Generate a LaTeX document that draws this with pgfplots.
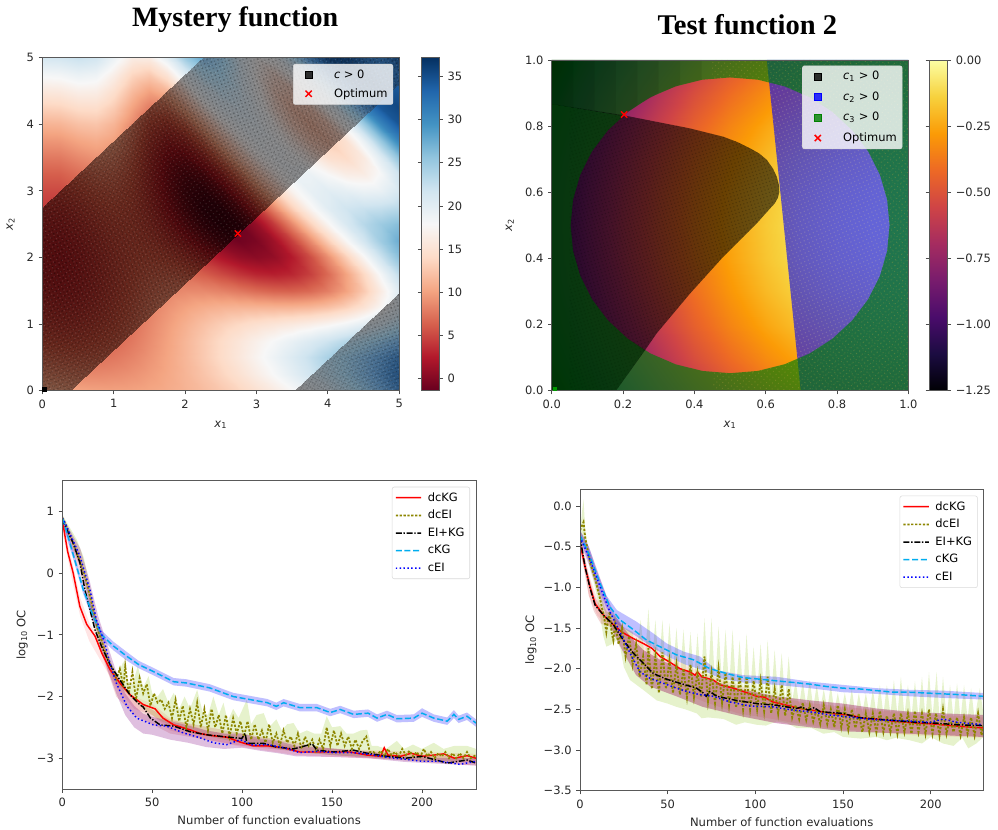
\documentclass[border=0pt]{standalone}
\usepackage{pgfplots}
\usepackage{pgfplotstable}
\usepackage{fontspec}
\pgfplotsset{compat=1.18}
\usetikzlibrary{patterns,patterns.meta}
\setmainfont{DejaVu Sans}
\newfontfamily\titlefont{Liberation Serif}[BoldFont={Liberation Serif Bold}]
\pgfplotsset{
 colormap={RdBu}{rgb255=(103,0,31) rgb255=(178,24,43) rgb255=(214,96,77) rgb255=(244,165,130) rgb255=(253,219,199) rgb255=(247,247,247) rgb255=(209,229,240) rgb255=(146,197,222) rgb255=(67,147,195) rgb255=(33,102,172) rgb255=(5,48,97)},
 colormap={RdBuBand}{rgb255=(28,0,6) rgb255=(78,9,13) rgb255=(103,40,29) rgb255=(125,80,62) rgb255=(136,110,100) rgb255=(136,134,134) rgb255=(126,134,140) rgb255=(106,134,150) rgb255=(74,112,146) rgb255=(37,80,124) rgb255=(11,44,83)},
 colormap={inferno}{rgb255=(0,0,4) rgb255=(27,12,65) rgb255=(74,12,107) rgb255=(120,28,109) rgb255=(165,44,96) rgb255=(207,68,70) rgb255=(237,105,37) rgb255=(251,155,6) rgb255=(247,209,61) rgb255=(252,255,164)},
 base/.style={scale only axis, axis line style={black!65,line width=.7pt}, tick style={black!70,line width=.6pt}, tick align=outside, tick pos=left, major tick length=2.8pt, tick label style={font=\fontsize{8.6}{10}\selectfont,text=black!85}, label style={font=\fontsize{8.7}{10}\selectfont,text=black!85}, axis on top, xticklabel style={yshift=-.3pt}},
 leg/.style={legend style={draw=black!15,fill=white,fill opacity=.8,draw opacity=1,text opacity=1,rounded corners=1.5pt,font=\fontsize{8.6}{10}\selectfont,cells={anchor=west},row sep=#1,inner sep=2pt}},
 lg/.style={legend image code/.code={\path[draw=none,fill=none] (0pt,0pt) -- (22pt,0pt);\draw[#1] (0pt,0pt) -- (9.5pt,0.05pt) -- (19pt,0pt);}},
 lgm/.style={legend image code/.code={\path[draw=none,fill=none] (0pt,0pt) -- (26.5pt,0pt);\draw[##1] plot coordinates {(9.5pt,0pt)};}},
 sp/.style n args={5}{forget plot,draw=none,opacity=#1,pattern={Dots[radius=#2,distance=#3,angle=#4]},pattern color=#5},
 dk/.style={forget plot,draw=none,fill=black,fill opacity=.075},
}
\definecolor{spg}{RGB}{205,170,70}
\definecolor{spb}{RGB}{225,205,160}
\pgfplotstableread[row sep=\\]{
x y z\\
0 0 11\\0 0.25 9.13\\0 0.5 7.5\\0 0.75 6.13\\0 1 5.01\\0 1.25 4.14\\0 1.5 3.52\\0 1.75 3.16\\0 2 3.04\\0 2.25 3.18\\0 2.5 3.56\\0 2.75 4.2\\0 3 5.09\\0 3.25 6.23\\0 3.5 7.62\\0 3.75 9.27\\0 4 11.16\\0 4.25 13.31\\0 4.5 15.7\\0 4.75 18.35\\0 5 21.25\\
0.25 0 10.56\\0.25 0.25 8.73\\0.25 0.5 7.14\\0.25 0.75 5.8\\0.25 1 4.72\\0.25 1.25 3.89\\0.25 1.5 3.31\\0.25 1.75 2.98\\0.25 2 2.9\\0.25 2.25 3.07\\0.25 2.5 3.49\\0.25 2.75 4.16\\0.25 3 5.09\\0.25 3.25 6.26\\0.25 3.5 7.68\\0.25 3.75 9.36\\0.25 4 11.28\\0.25 4.25 13.46\\0.25 4.5 15.88\\0.25 4.75 18.55\\0.25 5 21.47\\
0.5 0 10.25\\0.5 0.25 8.53\\0.5 0.5 7.05\\0.5 0.75 5.83\\0.5 1 4.85\\0.5 1.25 4.12\\0.5 1.5 3.64\\0.5 1.75 3.4\\0.5 2 3.4\\0.5 2.25 3.65\\0.5 2.5 4.13\\0.5 2.75 4.86\\0.5 3 5.83\\0.5 3.25 7.04\\0.5 3.5 8.49\\0.5 3.75 10.18\\0.5 4 12.1\\0.5 4.25 14.27\\0.5 4.5 16.66\\0.5 4.75 19.3\\0.5 5 22.18\\
0.75 0 10.07\\0.75 0.25 8.53\\0.75 0.5 7.23\\0.75 0.75 6.17\\0.75 1 5.35\\0.75 1.25 4.76\\0.75 1.5 4.39\\0.75 1.75 4.24\\0.75 2 4.3\\0.75 2.25 4.59\\0.75 2.5 5.08\\0.75 2.75 5.79\\0.75 3 6.68\\0.75 3.25 7.77\\0.75 3.5 9.12\\0.75 3.75 10.65\\0.75 4 12.39\\0.75 4.25 14.36\\0.75 4.5 16.52\\0.75 4.75 18.92\\0.75 5 21.53\\
1 0 10.01\\1 0.25 8.72\\1 0.5 7.65\\1 0.75 6.81\\1 1 6.16\\1 1.25 5.71\\1 1.5 5.41\\1 1.75 5.29\\1 2 5.32\\1 2.25 5.5\\1 2.5 5.82\\1 2.75 6.31\\1 3 6.94\\1 3.25 7.74\\1 3.5 8.7\\1 3.75 9.87\\1 4 11.21\\1 4.25 12.8\\1 4.5 14.59\\1 4.75 16.66\\1 5 18.98\\
1.25 0 10.08\\1.25 0.25 9.09\\1.25 0.5 8.31\\1.25 0.75 7.69\\1.25 1 7.2\\1.25 1.25 6.83\\1.25 1.5 6.52\\1.25 1.75 6.28\\1.25 2 6.09\\1.25 2.25 5.97\\1.25 2.5 5.91\\1.25 2.75 5.95\\1.25 3 6.1\\1.25 3.25 6.42\\1.25 3.5 6.92\\1.25 3.75 7.66\\1.25 4 8.68\\1.25 4.25 10.02\\1.25 4.5 11.72\\1.25 4.75 13.8\\1.25 5 16.31\\
1.5 0 10.3\\1.5 0.25 9.66\\1.5 0.5 9.17\\1.5 0.75 8.78\\1.5 1 8.41\\1.5 1.25 8\\1.5 1.5 7.53\\1.5 1.75 6.98\\1.5 2 6.37\\1.5 2.25 5.74\\1.5 2.5 5.11\\1.5 2.75 4.58\\1.5 3 4.22\\1.5 3.25 4.11\\1.5 3.5 4.34\\1.5 3.75 5\\1.5 4 6.12\\1.5 4.25 7.79\\1.5 4.5 10.03\\1.5 4.75 12.85\\1.5 5 16.23\\
1.75 0 10.65\\1.75 0.25 10.39\\1.75 0.5 10.22\\1.75 0.75 10\\1.75 1 9.66\\1.75 1.25 9.09\\1.75 1.5 8.26\\1.75 1.75 7.22\\1.75 2 6\\1.75 2.25 4.72\\1.75 2.5 3.48\\1.75 2.75 2.48\\1.75 3 1.83\\1.75 3.25 1.69\\1.75 3.5 2.17\\1.75 3.75 3.36\\1.75 4 5.29\\1.75 4.25 7.97\\1.75 4.5 11.36\\1.75 4.75 15.33\\1.75 5 19.75\\
2 0 11.16\\2 0.25 11.29\\2 0.5 11.41\\2 0.75 11.35\\2 1 10.89\\2 1.25 10\\2 1.5 8.64\\2 1.75 6.94\\2 2 5.01\\2 2.25 3.11\\2 2.5 1.45\\2 2.75 0.32\\2 3 -0.12\\2 3.25 0.32\\2 3.5 1.71\\2 3.75 4.07\\2 4 7.28\\2 4.25 11.21\\2 4.5 15.6\\2 4.75 20.29\\2 5 24.88\\
2.25 0 11.82\\2.25 0.25 12.34\\2.25 0.5 12.75\\2.25 0.75 12.72\\2.25 1 12.05\\2.25 1.25 10.66\\2.25 1.5 8.63\\2.25 1.75 6.17\\2.25 2 3.6\\2.25 2.25 1.3\\2.25 2.5 -0.38\\2.25 2.75 -1.14\\2.25 3 -0.72\\2.25 3.25 0.92\\2.25 3.5 3.67\\2.25 3.75 7.39\\2.25 4 11.68\\2.25 4.25 16.22\\2.25 4.5 20.61\\2.25 4.75 24.57\\2.25 5 27.87\\
2.5 0 12.64\\2.5 0.25 13.55\\2.5 0.5 14.18\\2.5 0.75 14.1\\2.5 1 13.07\\2.5 1.25 11.04\\2.5 1.5 8.26\\2.5 1.75 5.1\\2.5 2 2.1\\2.5 2.25 -0.22\\2.5 2.5 -1.38\\2.5 2.75 -1.12\\2.5 3 0.65\\2.5 3.25 3.74\\2.5 3.5 7.78\\2.5 3.75 12.27\\2.5 4 16.66\\2.5 4.25 20.5\\2.5 4.5 23.42\\2.5 4.75 25.36\\2.5 5 26.42\\
2.75 0 13.63\\2.75 0.25 14.9\\2.75 0.5 15.7\\2.75 0.75 15.46\\2.75 1 13.93\\2.75 1.25 11.19\\2.75 1.5 7.66\\2.75 1.75 3.99\\2.75 2 0.9\\2.75 2.25 -0.92\\2.75 2.5 -1.01\\2.75 2.75 0.68\\2.75 3 3.93\\2.75 3.25 8.2\\2.75 3.5 12.74\\2.75 3.75 16.87\\2.75 4 19.97\\2.75 4.25 21.8\\2.75 4.5 22.39\\2.75 4.75 22.18\\2.75 5 21.76\\
3 0 14.81\\3 0.25 16.4\\3 0.5 17.27\\3 0.75 16.79\\3 1 14.67\\3 1.25 11.18\\3 1.5 7\\3 1.75 3.1\\3 2 0.41\\3 2.25 -0.4\\3 2.5 0.92\\3 2.75 4.12\\3 3 8.48\\3 3.25 13.06\\3 3.5 16.91\\3 3.75 19.38\\3 4 20.22\\3 4.25 19.7\\3 4.5 18.52\\3 4.75 17.66\\3 5 18.02\\
3.25 0 16.18\\3.25 0.25 18\\3.25 0.5 18.91\\3.25 0.75 18.07\\3.25 1 15.3\\3.25 1.25 11.12\\3.25 1.5 6.51\\3.25 1.75 2.77\\3.25 2 0.89\\3.25 2.25 1.46\\3.25 2.5 4.29\\3.25 2.75 8.61\\3.25 3 13.23\\3.25 3.25 16.99\\3.25 3.5 19.01\\3.25 3.75 19.1\\3.25 4 17.72\\3.25 4.25 15.9\\3.25 4.5 14.86\\3.25 4.75 15.67\\3.25 5 18.88\\
3.5 0 17.75\\3.5 0.25 19.78\\3.5 0.5 20.61\\3.5 0.75 19.34\\3.5 1 15.91\\3.5 1.25 11.13\\3.5 1.5 6.41\\3.5 1.75 3.2\\3.5 2 2.53\\3.5 2.25 4.57\\3.5 2.5 8.61\\3.5 2.75 13.3\\3.5 3 17.14\\3.5 3.25 19.04\\3.5 3.5 18.69\\3.5 3.75 16.72\\3.5 4 14.41\\3.5 4.25 13.27\\3.5 4.5 14.47\\3.5 4.75 18.42\\3.5 5 24.64\\
3.75 0 19.54\\3.75 0.25 21.67\\3.75 0.5 22.36\\3.75 0.75 20.62\\3.75 1 16.57\\3.75 1.25 11.4\\3.75 1.5 6.87\\3.75 1.75 4.58\\3.75 2 5.28\\3.75 2.25 8.63\\3.75 2.5 13.24\\3.75 2.75 17.35\\3.75 3 19.46\\3.75 3.25 19.07\\3.75 3.5 16.75\\3.75 3.75 14.03\\3.75 4 12.69\\3.75 4.25 14.06\\3.75 4.5 18.4\\3.75 4.75 24.91\\3.75 5 31.92\\
4 0 21.56\\4 0.25 23.71\\4 0.5 24.17\\4 0.75 21.95\\4 1 17.38\\4 1.25 12.08\\4 1.5 8.05\\4 1.75 6.91\\4 2 8.94\\4 2.25 13.13\\4 2.5 17.5\\4 2.75 20.18\\4 3 20.13\\4 3.25 17.79\\4 3.5 14.73\\4 3.75 13.03\\4 4 14.21\\4 4.25 18.58\\4 4.5 25.03\\4 4.75 31.66\\4 5 36.52\\
4.25 0 23.82\\4.25 0.25 25.89\\4.25 0.5 26.07\\4.25 0.75 23.39\\4.25 1 18.46\\4.25 1.25 13.27\\4.25 1.5 10.03\\4.25 1.75 10.1\\4.25 2 13.2\\4.25 2.25 17.57\\4.25 2.5 20.92\\4.25 2.75 21.68\\4.25 3 19.68\\4.25 3.25 16.45\\4.25 3.5 14.21\\4.25 3.75 14.87\\4.25 4 18.86\\4.25 4.25 25.06\\4.25 4.5 31.26\\4.25 4.75 35.42\\4.25 5 36.67\\
4.5 0 26.35\\4.5 0.25 28.24\\4.5 0.5 28.1\\4.5 0.75 25\\4.5 1 19.91\\4.5 1.25 15.1\\4.5 1.5 12.82\\4.5 1.75 13.99\\4.5 2 17.67\\4.5 2.25 21.54\\4.5 2.5 23.35\\4.5 2.75 22.2\\4.5 3 19.09\\4.5 3.25 16.32\\4.5 3.5 16.12\\4.5 3.75 19.37\\4.5 4 25.07\\4.5 4.25 30.93\\4.5 4.5 34.67\\4.5 4.75 35.48\\4.5 5 34.35\\
4.75 0 29.15\\4.75 0.25 30.76\\4.75 0.5 30.27\\4.75 0.75 26.88\\4.75 1 21.82\\4.75 1.25 17.6\\4.75 1.5 16.33\\4.75 1.75 18.36\\4.75 2 22.07\\4.75 2.25 24.84\\4.75 2.5 24.95\\4.75 2.75 22.47\\4.75 3 19.35\\4.75 3.25 18.15\\4.75 3.5 20.3\\4.75 3.75 25.26\\4.75 4 30.76\\4.75 4.25 34.4\\4.75 4.5 35.12\\4.75 4.75 33.94\\4.75 5 33.28\\
5 0 32.25\\5 0.25 33.48\\5 0.5 32.62\\5 0.75 29.08\\5 1 24.29\\5 1.25 20.82\\5 1.5 20.42\\5 1.75 22.88\\5 2 26.04\\5 2.25 27.5\\5 2.5 26.18\\5 2.75 23.25\\5 3 21.15\\5 3.25 21.97\\5 3.5 25.82\\5 3.75 30.87\\5 4 34.56\\5 4.25 35.54\\5 4.5 34.52\\5 4.75 33.9\\5 5 35.91\\
}\mysterydata
\pgfplotstableread[row sep=\\]{
x y z\\
0 0 -1.25\\0 0.1 -1.16\\0 0.2 -1.09\\0 0.3 -1.04\\0 0.4 -1.01\\0 0.5 -1\\0 0.6 -1.01\\0 0.7 -1.04\\0 0.8 -1.09\\0 0.9 -1.16\\0 1 -1.25\\
0.1 0 -1.06\\0.1 0.1 -0.97\\0.1 0.2 -0.9\\0.1 0.3 -0.85\\0.1 0.4 -0.82\\0.1 0.5 -0.81\\0.1 0.6 -0.82\\0.1 0.7 -0.85\\0.1 0.8 -0.9\\0.1 0.9 -0.97\\0.1 1 -1.06\\
0.2 0 -0.89\\0.2 0.1 -0.8\\0.2 0.2 -0.73\\0.2 0.3 -0.68\\0.2 0.4 -0.65\\0.2 0.5 -0.64\\0.2 0.6 -0.65\\0.2 0.7 -0.68\\0.2 0.8 -0.73\\0.2 0.9 -0.8\\0.2 1 -0.89\\
0.3 0 -0.74\\0.3 0.1 -0.65\\0.3 0.2 -0.58\\0.3 0.3 -0.53\\0.3 0.4 -0.5\\0.3 0.5 -0.49\\0.3 0.6 -0.5\\0.3 0.7 -0.53\\0.3 0.8 -0.58\\0.3 0.9 -0.65\\0.3 1 -0.74\\
0.4 0 -0.61\\0.4 0.1 -0.52\\0.4 0.2 -0.45\\0.4 0.3 -0.4\\0.4 0.4 -0.37\\0.4 0.5 -0.36\\0.4 0.6 -0.37\\0.4 0.7 -0.4\\0.4 0.8 -0.45\\0.4 0.9 -0.52\\0.4 1 -0.61\\
0.5 0 -0.5\\0.5 0.1 -0.41\\0.5 0.2 -0.34\\0.5 0.3 -0.29\\0.5 0.4 -0.26\\0.5 0.5 -0.25\\0.5 0.6 -0.26\\0.5 0.7 -0.29\\0.5 0.8 -0.34\\0.5 0.9 -0.41\\0.5 1 -0.5\\
0.6 0 -0.41\\0.6 0.1 -0.32\\0.6 0.2 -0.25\\0.6 0.3 -0.2\\0.6 0.4 -0.17\\0.6 0.5 -0.16\\0.6 0.6 -0.17\\0.6 0.7 -0.2\\0.6 0.8 -0.25\\0.6 0.9 -0.32\\0.6 1 -0.41\\
0.7 0 -0.34\\0.7 0.1 -0.25\\0.7 0.2 -0.18\\0.7 0.3 -0.13\\0.7 0.4 -0.1\\0.7 0.5 -0.09\\0.7 0.6 -0.1\\0.7 0.7 -0.13\\0.7 0.8 -0.18\\0.7 0.9 -0.25\\0.7 1 -0.34\\
0.8 0 -0.29\\0.8 0.1 -0.2\\0.8 0.2 -0.13\\0.8 0.3 -0.08\\0.8 0.4 -0.05\\0.8 0.5 -0.04\\0.8 0.6 -0.05\\0.8 0.7 -0.08\\0.8 0.8 -0.13\\0.8 0.9 -0.2\\0.8 1 -0.29\\
0.9 0 -0.26\\0.9 0.1 -0.17\\0.9 0.2 -0.1\\0.9 0.3 -0.05\\0.9 0.4 -0.02\\0.9 0.5 -0.01\\0.9 0.6 -0.02\\0.9 0.7 -0.05\\0.9 0.8 -0.1\\0.9 0.9 -0.17\\0.9 1 -0.26\\
1 0 -0.25\\1 0.1 -0.16\\1 0.2 -0.09\\1 0.3 -0.04\\1 0.4 -0.01\\1 0.5 0\\1 0.6 -0.01\\1 0.7 -0.04\\1 0.8 -0.09\\1 0.9 -0.16\\1 1 -0.25\\
}\testdata
\begin{document}
\begin{tikzpicture}[x=1pt,y=1pt]
\useasboundingbox (0,0) rectangle (748.5,622.5);
\node[font=\titlefont\bfseries\fontsize{21}{24}\selectfont] at (176.3,607.8) {Mystery function};
\node[font=\titlefont\bfseries\fontsize{21.4}{24}\selectfont] at (560.5,603.8) {Test function 2};
% ---------- Mystery
\begin{axis}[base,leg=2.2pt,at={(31.7pt,329.5pt)},anchor=south west,width=267.75pt,height=249.75pt,
 xmin=0,xmax=5,ymin=0,ymax=5,xtick={0,1,2,3,4,5},xticklabels={0,1,2,3,4,5},ytick={0,1,2,3,4,5},yticklabels={0,1,2,3,4,5},
 xlabel={\textit{x}\textsubscript{1}},ylabel={\textit{x}\textsubscript{2}},xlabel shift=2.5pt,ylabel shift=2pt,
 colormap name=RdBu,point meta min=-1.43,point meta max=37.2,
 colorbar,colorbar style={at={(1.0627,1)},anchor=north west,width=13.2pt,ytick={0,5,10,15,20,25,30,35},yticklabels={0,5,10,15,20,25,30,35},tick align=outside,major tick length=2.8pt,axis line style={black!65,line width=.7pt},tick style={black!70,line width=.6pt},yticklabel style={font=\fontsize{8.6}{10}\selectfont,text=black!85}},
 legend style={at={(0.983,0.981)},anchor=north east}]
\addplot[forget plot,surf,shader=interp,mesh/rows=21,mesh/cols=21,mesh/ordering=y varies,point meta=explicit] table[x=x,y=y,meta=z] {\mysterydata};
\begin{scope}
\clip (axis cs:0,0) -- (axis cs:0.393,0) -- (axis cs:5,4.607) -- (axis cs:5,5) -- (axis cs:2.251,5) -- (axis cs:0,2.749) -- cycle
 (axis cs:3.534,0) -- (axis cs:5,0) -- (axis cs:5,1.466) -- cycle;
\addplot[forget plot,surf,shader=interp,colormap name=RdBuBand,mesh/rows=21,mesh/cols=21,mesh/ordering=y varies,point meta=explicit] table[x=x,y=y,meta=z] {\mysterydata};
\end{scope}
\addplot[sp={.2}{.6pt}{2.6pt}{17}{black}] coordinates {(0,0)(0.393,0)(5,4.607)(5,5)(2.251,5)(0,2.749)} --cycle;
\addplot[sp={.14}{.8pt}{3.7pt}{61}{black}] coordinates {(0,0)(0.393,0)(5,4.607)(5,5)(2.251,5)(0,2.749)} --cycle;
\addplot[sp={.12}{.6pt}{3.1pt}{37}{white}] coordinates {(0,0)(0.393,0)(5,4.607)(5,5)(2.251,5)(0,2.749)} --cycle;
\addplot[sp={.2}{.6pt}{2.6pt}{17}{black}] coordinates {(3.534,0)(5,0)(5,1.466)} --cycle;
\addplot[sp={.14}{.8pt}{3.7pt}{61}{black}] coordinates {(3.534,0)(5,0)(5,1.466)} --cycle;
\addplot[sp={.12}{.6pt}{3.1pt}{37}{white}] coordinates {(3.534,0)(5,0)(5,1.466)} --cycle;
\addplot[forget plot,only marks,mark=square*,mark size=1.5pt,black] coordinates {(0.03,0.02)};
\addlegendimage{only marks,mark=square*,mark size=2.6pt,black,lgm}
\addlegendentry{\textit{c} > 0}
\addplot[only marks,mark=x,mark size=3.3pt,red,line width=1.1pt,lgm] coordinates {(2.74,2.36)};
\addlegendentry{Optimum}
\end{axis}
% ---------- Test function 2
\begin{axis}[base,leg=3.5pt,at={(413.8pt,329.5pt)},anchor=south west,width=267.5pt,height=248pt,
 xmin=0,xmax=1,ymin=0,ymax=1,xtick={0,0.2,0.4,0.6,0.8,1},xticklabels={0.0,0.2,0.4,0.6,0.8,1.0},ytick={0,0.2,0.4,0.6,0.8,1},yticklabels={0.0,0.2,0.4,0.6,0.8,1.0},
 xlabel={\textit{x}\textsubscript{1}},ylabel={\textit{x}\textsubscript{2}},xlabel shift=2.5pt,ylabel shift=1.5pt,
 colormap name=inferno,point meta min=-1.25,point meta max=0,
 colorbar,colorbar style={at={(1.0589,1)},anchor=north west,width=13.5pt,ytick={-1.25,-1,-0.75,-0.5,-0.25,0},yticklabels={−1.25,−1.00,−0.75,−0.50,−0.25,0.00},tick align=outside,major tick length=2.8pt,axis line style={black!65,line width=.7pt},tick style={black!70,line width=.6pt},yticklabel style={font=\fontsize{8.6}{10}\selectfont,text=black!85}},
 legend style={at={(0.983,0.983)},anchor=north east}]
\addplot[forget plot,surf,shader=interp,mesh/rows=11,mesh/cols=11,mesh/ordering=y varies,point meta=explicit] table[x=x,y=y,meta=z] {\testdata};
\addplot[forget plot,draw=none,fill=blue,fill opacity=.6] coordinates {(0.603,1)(1,1)(1,0)(0.698,0)} --cycle;
\addplot[sp={.22}{.6pt}{2.9pt}{23}{spb}] coordinates {(0.603,1)(1,1)(1,0)(0.698,0)} --cycle;
\addplot[forget plot,draw=none,fill={rgb,255:red,0;green,125;blue,10},fill opacity=.67] coordinates {(0,0.5)(0,0)(1,0)(1,1)(0,1)(0,0.5)(0.0528,0.5)(0.0596,0.5777)(0.0798,0.653)(0.1127,0.7236)(0.1574,0.7875)(0.2125,0.8426)(0.2764,0.8873)(0.347,0.9202)(0.4223,0.9404)(0.5,0.9472)(0.5777,0.9404)(0.653,0.9202)(0.7236,0.8873)(0.7875,0.8426)(0.8426,0.7875)(0.8873,0.7236)(0.9202,0.653)(0.9404,0.5777)(0.9472,0.5)(0.9404,0.4223)(0.9202,0.347)(0.8873,0.2764)(0.8426,0.2125)(0.7875,0.1574)(0.7236,0.1127)(0.653,0.0798)(0.5777,0.0596)(0.5,0.0528)(0.4223,0.0596)(0.347,0.0798)(0.2764,0.1127)(0.2125,0.1574)(0.1574,0.2125)(0.1127,0.2764)(0.0798,0.347)(0.0596,0.4223)(0.0528,0.5)} --cycle;
\addplot[sp={.25}{.55pt}{3.1pt}{41}{spg}] coordinates {(0.45,1)(1,1)(1,0)(0.45,0)(0.45,0.0553)(0.5,0.0528)(0.5777,0.0596)(0.653,0.0798)(0.7236,0.1127)(0.7875,0.1574)(0.8426,0.2125)(0.8873,0.2764)(0.9202,0.347)(0.9404,0.4223)(0.9472,0.5)(0.9404,0.5777)(0.9202,0.653)(0.8873,0.7236)(0.8426,0.7875)(0.7875,0.8426)(0.7236,0.8873)(0.653,0.9202)(0.5777,0.9404)(0.5,0.9472)(0.45,0.9444)} --cycle;
\addplot[forget plot,draw=none,fill=black,fill opacity=.58] coordinates {(0,0)(0.18,0)(0.262,0.123)(0.294,0.173)(0.388,0.294)(0.481,0.405)(0.575,0.506)(0.608,0.546)(0.625,0.566)(0.634,0.583)(0.638,0.6)(0.637,0.622)(0.631,0.647)(0.62,0.672)(0.603,0.698)(0.582,0.717)(0.556,0.733)(0.52,0.752)(0.481,0.768)(0.388,0.793)(0.294,0.813)(0.2,0.833)(0,0.867)} --cycle;
\addplot[sp={.2}{.6pt}{2.6pt}{17}{black}] coordinates {(0.05,0)(0.18,0)(0.262,0.123)(0.294,0.173)(0.388,0.294)(0.481,0.405)(0.575,0.506)(0.608,0.546)(0.625,0.566)(0.634,0.583)(0.638,0.6)(0.637,0.622)(0.631,0.647)(0.62,0.672)(0.603,0.698)(0.582,0.717)(0.556,0.733)(0.52,0.752)(0.481,0.768)(0.388,0.793)(0.294,0.813)(0.2,0.833)(0.05,0.86)} --cycle;
\addplot[forget plot,draw=none,fill={rgb,255:red,0;green,110;blue,10},fill opacity=.25] coordinates {(0,0)(0.18,0)(0.26,0.122)(0.2125,0.1574)(0.1574,0.2125)(0.1127,0.2764)(0.0798,0.347)(0.0596,0.4223)(0.0528,0.5)(0.0596,0.5777)(0.0798,0.653)(0.1127,0.7236)(0.1574,0.7875)(0.2,0.83)(0,0.867)} --cycle;
\addplot[dk] coordinates {(0,0.867)(0.2,0.833)(0.25,0.87)(0.3,0.9)(0.36,0.925)(0.42,0.94)(0.42,1)(0,1)} --cycle;
\addplot[dk] coordinates {(0,0.867)(0.2,0.833)(0.25,0.87)(0.3,0.9)(0.36,0.925)(0.36,1)(0,1)} --cycle;
\addplot[dk] coordinates {(0,0.867)(0.2,0.833)(0.25,0.87)(0.3,0.9)(0.3,1)(0,1)} --cycle;
\addplot[dk] coordinates {(0,0.867)(0.2,0.833)(0.24,0.862)(0.24,1)(0,1)} --cycle;
\addplot[dk] coordinates {(0,0.867)(0.18,0.836)(0.18,1)(0,1)} --cycle;
\addplot[dk] coordinates {(0,0.867)(0.12,0.847)(0.12,1)(0,1)} --cycle;
\addplot[dk] coordinates {(0,0.867)(0.06,0.857)(0.06,1)(0,1)} --cycle;
\addplot[forget plot,only marks,mark=square*,mark size=1.2pt,green!60!black] coordinates {(0.008,0.006)};
\addlegendimage{only marks,mark=square*,mark size=2.6pt,black,lgm}
\addlegendentry{\textit{c}\textsubscript{1} > 0}
\addlegendimage{only marks,mark=square*,mark size=2.6pt,blue,lgm}
\addlegendentry{\textit{c}\textsubscript{2} > 0}
\addlegendimage{only marks,mark=square*,mark size=2.6pt,green!50!black,lgm}
\addlegendentry{\textit{c}\textsubscript{3} > 0}
\addplot[only marks,mark=x,mark size=3.3pt,red,line width=1.1pt,lgm] coordinates {(0.203,0.835)};
\addlegendentry{Optimum}
\end{axis}
% ---------- OC left
\begin{axis}[base,leg=1.3pt,at={(46.7pt,30.75pt)},anchor=south west,width=310.3pt,height=231.2pt,
 xmin=0,xmax=230,ymin=-3.5,ymax=1.5,xtick={0,50,100,150,200},xticklabels={0,50,100,150,200},ytick={-3,-2,-1,0,1},yticklabels={−3,−2,−1,0,1},
 xlabel={Number of function evaluations},ylabel={log\textsubscript{10} OC},
 legend style={at={(0.9855,0.9805)},anchor=north east,fill opacity=1}]
\addplot[forget plot,draw=none,fill=red,fill opacity=.1] coordinates {(0,0.85)(5,0.25)(10,-0.4)(15,-0.8)(20,-1.05)(25,-1.4)(30,-1.65)(40,-2)(50,-2.12)(60,-2.35)(80,-2.55)(100,-2.65)(130,-2.82)(180,-2.88)(230,-2.93)(230,-3.07)(180,-3.02)(130,-2.95)(100,-2.82)(80,-2.7)(60,-2.55)(50,-2.3)(40,-2.2)(30,-1.85)(25,-1.6)(20,-1.35)(15,-1.1)(10,-0.7)(5,-0.05)(0,0.7)} --cycle;
\addplot[forget plot,draw=none,fill={rgb,255:red,154;green,205;blue,50},fill opacity=.25] coordinates {(0,0.95)(3,0.8)(8,0.55)(12,0.25)(16,-0.3)(20,-0.85)(25,-1.3)(28,-1.5)(31,-1.65)(34,-1.43)(36,-1.75)(39,-1.8)(42,-1.51)(45,-1.85)(48,-1.67)(50,-1.95)(53,-2)(56,-1.88)(59,-2.1)(62,-1.94)(65,-2.2)(68,-2)(71,-2.2)(75,-1.89)(78,-2.25)(81,-2.3)(84,-2)(87,-2.3)(89.6,-2.1)(92,-2.4)(95,-2.2)(98,-2.35)(102.6,-2.05)(105,-2.45)(108,-2.3)(112,-2.27)(115,-2.5)(119,-2.37)(122,-2.55)(125,-2.45)(128.6,-2.43)(132,-2.6)(136,-2.55)(140,-2.6)(144,-2.6)(147,-2.32)(150,-2.5)(154.5,-2.48)(158,-2.6)(162,-2.6)(166,-2.55)(169.5,-2.54)(172,-2.8)(175,-2.8)(180,-2.85)(186,-2.72)(190,-2.85)(195,-2.78)(200,-2.85)(206.5,-2.75)(212,-2.85)(218,-2.8)(225,-2.8)(230,-2.85)(230,-3.05)(200,-3.05)(170,-2.98)(150,-2.95)(130,-2.9)(110,-2.8)(90,-2.7)(70,-2.58)(55,-2.4)(45,-2.2)(38,-2)(32,-1.85)(28,-1.7)(25,-1.5)(20,-1.1)(16,-0.6)(12,-0.05)(8,0.35)(4,0.65)(0,0.85)} --cycle;
\addplot[forget plot,draw=none,fill=red!70!black,fill opacity=.15] coordinates {(0,0.95)(10,0.3)(20,-0.85)(30,-1.7)(40,-2.05)(60,-2.38)(100,-2.6)(150,-2.85)(230,-3)(230,-3.12)(150,-2.95)(100,-2.8)(60,-2.6)(40,-2.3)(30,-2)(20,-1.15)(10,0)(0,0.8)} --cycle;
\addplot[forget plot,draw=none,fill=blue,fill opacity=.25] coordinates {(0,0.92)(6.1,0.37)(11.7,-0.2)(17.3,-0.62)(21.9,-0.93)(28.4,-1.11)(36,-1.28)(42.4,-1.42)(51,-1.54)(62,-1.7)(69,-1.72)(82,-1.8)(95,-1.94)(104.5,-1.99)(114,-2.04)(119,-2.1)(123,-2.04)(132,-2.12)(141.5,-2.12)(149,-2.2)(154.5,-2.15)(162,-2.23)(170,-2.21)(175,-2.29)(180.5,-2.23)(186,-2.3)(195.4,-2.29)(200,-2.19)(206.5,-2.29)(214,-2.34)(217.7,-2.22)(220.4,-2.31)(225,-2.26)(230,-2.37)(230,-2.49)(225,-2.38)(220.4,-2.43)(217.7,-2.35)(214,-2.46)(206.5,-2.41)(200,-2.33)(195.4,-2.41)(186,-2.42)(180.5,-2.35)(175,-2.41)(170,-2.33)(162,-2.35)(154.5,-2.27)(149,-2.32)(141.5,-2.24)(132,-2.24)(123,-2.16)(119,-2.22)(114,-2.16)(104.5,-2.11)(95,-2.06)(82,-1.92)(69,-1.84)(62,-1.82)(51,-1.66)(42.4,-1.54)(36,-1.42)(28.4,-1.25)(21.9,-1.07)(17.3,-0.78)(11.7,-0.34)(6.1,0.23)(0,0.8)} --cycle;
\addplot[forget plot,draw=none,fill=violet,fill opacity=.25] coordinates {(0,0.92)(10,0.4)(15,-0.1)(20,-0.7)(25,-1.15)(30,-1.6)(35,-1.95)(40,-2.15)(45,-2.28)(50,-2.33)(60,-2.4)(70,-2.47)(80,-2.55)(90,-2.6)(100,-2.6)(110,-2.68)(120,-2.72)(130,-2.8)(150,-2.84)(170,-2.9)(190,-2.97)(210,-3)(230,-3)(230,-3.12)(210,-3.09)(190,-3.06)(170,-3)(150,-2.98)(130,-2.97)(120,-2.92)(110,-2.88)(100,-2.83)(90,-2.85)(80,-2.82)(70,-2.75)(60,-2.7)(50,-2.62)(45,-2.6)(40,-2.5)(35,-2.3)(30,-1.95)(25,-1.55)(20,-1)(15,-0.45)(10,0.1)(0,0.8)} --cycle;
\addplot[color=red,line width=1.1pt,lg={color=red,line width=1.1pt}] coordinates {(0,0.8)(0.6,0.76)(3,0.35)(6.1,0)(9.8,-0.54)(13.6,-0.83)(18.2,-1.02)(21.9,-1.29)(26.5,-1.56)(32,-1.78)(37.6,-1.97)(45,-2.13)(51.6,-2.2)(56,-2.35)(62,-2.46)(71,-2.54)(76.6,-2.6)(82,-2.63)(91.5,-2.66)(99,-2.74)(106,-2.8)(114,-2.8)(123,-2.83)(132,-2.9)(141.5,-2.9)(151,-2.9)(160,-2.9)(169.5,-2.95)(177,-2.97)(179,-2.83)(181,-2.95)(188,-2.97)(194,-2.92)(200,-2.97)(206.5,-2.95)(212,-2.93)(218,-3)(225,-2.96)(230,-3)};
\addlegendentry{dcKG}
\addplot[color=olive,line width=1.3pt,dash pattern=on 1.7pt off 1.2pt,lg={color=olive,line width=1.3pt,dash pattern=on 1.7pt off 1.2pt}] coordinates {(0,0.9)(2,0.78)(4,0.62)(6,0.48)(8,0.32)(10,0.18)(12,0)(14,-0.2)(16,-0.45)(18,-0.7)(20,-0.95)(22,-1.1)(24,-1.3)(26,-1.45)(28,-1.55)(30,-1.72)(32,-1.55)(34,-1.85)(35,-1.5)(37,-1.95)(39,-1.6)(41,-2.05)(43,-1.7)(45,-1.95)(47,-1.8)(49,-2.15)(51,-1.95)(53,-2.1)(55,-2.05)(57,-2.2)(59,-2.1)(61,-2.35)(63,-2.05)(65,-2.4)(67,-2.15)(69,-2.5)(71,-2.2)(73,-2.45)(75,-2.1)(77,-2.5)(79,-2.2)(81,-2.55)(83,-2.2)(85,-2.5)(87,-2.3)(89,-2.6)(91,-2.3)(93,-2.65)(95,-2.35)(97,-2.6)(99,-2.4)(101,-2.65)(103,-2.4)(105,-2.7)(107,-2.45)(109,-2.7)(111,-2.55)(113,-2.75)(115,-2.45)(117,-2.75)(119,-2.6)(121,-2.8)(123,-2.55)(125,-2.75)(127,-2.65)(129,-2.8)(131,-2.6)(133,-2.85)(135,-2.65)(137,-2.8)(139,-2.7)(141,-2.88)(143,-2.7)(145,-2.85)(147,-2.5)(149,-2.8)(151,-2.55)(153,-2.8)(155,-2.6)(157,-2.8)(159,-2.65)(161,-2.85)(163,-2.7)(165,-2.85)(167,-2.72)(169,-2.65)(171,-2.9)(173,-2.9)(175,-2.95)(177,-2.88)(179,-2.97)(181,-2.85)(183,-2.95)(185,-2.9)(187,-2.97)(189,-2.85)(191,-2.95)(193,-2.88)(195,-2.97)(197,-2.9)(199,-2.98)(201,-2.85)(203,-2.97)(205,-2.9)(207,-3)(209,-2.92)(211,-2.97)(213,-2.9)(215,-3)(217,-2.92)(219,-3)(221,-2.92)(223,-3)(225,-2.9)(227,-3)(230,-2.95)};
\addlegendentry{dcEI}
\addplot[color=black,line width=1.1pt,dash pattern=on 4.5pt off 1.3pt on 1pt off 1.3pt,lg={color=black,line width=1.1pt,dash pattern=on 4.5pt off 1.3pt on 1pt off 1.3pt}] coordinates {(0,0.88)(0.9,0.81)(6.1,0.49)(9.8,0.17)(12.6,-0.27)(15.4,-0.59)(18.2,-0.92)(21.9,-1.19)(26.5,-1.48)(32,-1.73)(37.6,-1.97)(43,-2.13)(45,-2.17)(49,-2.35)(54.4,-2.46)(62,-2.48)(71,-2.57)(80,-2.62)(89.6,-2.65)(99.8,-2.68)(101.7,-2.6)(102.6,-2.76)(112,-2.76)(119,-2.82)(128.6,-2.85)(139,-2.77)(141.5,-2.87)(151,-2.9)(162,-2.87)(169.4,-2.92)(180.5,-2.97)(191,-3)(200,-2.97)(206.5,-3.02)(214,-3.08)(225,-3.03)(230,-3.08)};
\addlegendentry{EI+KG}
\addplot[color=cyan,line width=1.1pt,dash pattern=on 4.5pt off 2pt,lg={color=cyan,line width=1.1pt,dash pattern=on 4.5pt off 2pt}] coordinates {(0,0.88)(0.6,0.86)(6.1,0.3)(11.7,-0.27)(17.3,-0.7)(21.9,-1)(28.4,-1.18)(36,-1.35)(42.4,-1.48)(51,-1.6)(62,-1.76)(69,-1.78)(82,-1.86)(95,-2)(104.5,-2.05)(114,-2.1)(119,-2.16)(123,-2.1)(132,-2.18)(141.5,-2.18)(149,-2.26)(154.5,-2.21)(162,-2.29)(170,-2.27)(175,-2.35)(180.5,-2.29)(186,-2.36)(195.4,-2.35)(200,-2.27)(206.5,-2.35)(214,-2.4)(217.7,-2.29)(220.4,-2.37)(225,-2.32)(230,-2.43)};
\addlegendentry{cKG}
\addplot[color=blue,line width=1.1pt,dash pattern=on 1.1pt off 1.8pt,lg={color=blue,line width=1.1pt,dash pattern=on 1.1pt off 1.8pt}] coordinates {(0,0.9)(0.9,0.86)(9.8,0.28)(15.4,-0.27)(19,-0.76)(23.6,-1.13)(26.5,-1.46)(30,-1.78)(36,-2.16)(41.4,-2.35)(50.6,-2.46)(58,-2.48)(67.3,-2.59)(76.6,-2.67)(84,-2.75)(91.5,-2.78)(99,-2.7)(106,-2.79)(114,-2.78)(123,-2.83)(132,-2.91)(141.5,-2.89)(151,-2.91)(162,-2.91)(171,-2.94)(181.5,-2.99)(191.7,-3.02)(200,-3.05)(210,-3.05)(221,-3.1)(230,-3.05)};
\addlegendentry{cEI}
\end{axis}
% ---------- OC right
\begin{axis}[base,leg=1.3pt,at={(435pt,29.5pt)},anchor=south west,width=302.5pt,height=225.75pt,
 xmin=0,xmax=230,ymin=-3.5,ymax=0.2,xtick={0,50,100,150,200},xticklabels={0,50,100,150,200},ytick={-3.5,-3,-2.5,-2,-1.5,-1,-0.5,0},yticklabels={−3.5,−3.0,−2.5,−2.0,−1.5,−1.0,−0.5,0.0},
 xlabel={Number of function evaluations},ylabel={log\textsubscript{10} OC},ylabel shift=-1.5pt,
 legend style={at={(0.986,0.98)},anchor=north east,fill opacity=1}]
\addplot[forget plot,draw=none,fill=red,fill opacity=.1] coordinates {(0,-0.4)(5,-0.85)(10,-1.15)(20,-1.42)(30,-1.55)(40,-1.68)(50,-1.85)(70,-2.05)(90,-2.2)(110,-2.35)(130,-2.42)(150,-2.47)(190,-2.55)(230,-2.6)(230,-2.85)(190,-2.82)(150,-2.75)(130,-2.7)(110,-2.62)(90,-2.55)(70,-2.4)(50,-2.2)(40,-2.05)(30,-1.8)(20,-1.55)(10,-1.35)(5,-1.1)(0,-0.5)} --cycle;
\addplot[forget plot,draw=none,fill={rgb,255:red,154;green,205;blue,50},fill opacity=.25] coordinates {(0,-0.3)(1,-0.1)(2,0.08)(3,-0.3)(5,-0.55)(7,-0.65)(8,-0.72)(10,-0.95)(12,-1.1)(15,-1.3)(20,-1.35)(25,-1.5)(30,-1.55)(32,-1.85)(34.6,-1.4)(37,-1.9)(39,-1.26)(41,-1.95)(43,-1.4)(45,-2)(47,-1.4)(49,-2.05)(51,-1.44)(53,-2.05)(55,-1.5)(57,-2.1)(59,-1.52)(61,-2.1)(63,-1.55)(65,-2.15)(67,-1.57)(69,-2.15)(71,-1.38)(73,-2.15)(75,-1.38)(77,-2.2)(79,-1.48)(81,-2.2)(83,-1.52)(85,-2.25)(87,-1.52)(89,-2.25)(91,-1.65)(93,-2.3)(95,-1.57)(97,-2.3)(99,-1.73)(101,-2.3)(103,-1.69)(105,-2.35)(107,-1.65)(109,-2.35)(111,-1.77)(113,-2.35)(115,-1.81)(117,-2.4)(119,-1.85)(121,-2.4)(123,-2.15)(125,-2.45)(127,-2.15)(129,-2.45)(131,-2.14)(133,-2.48)(135,-2.2)(137,-2.5)(139,-2.25)(141,-2.5)(143,-2.2)(145,-2.52)(147,-2.3)(149,-2.52)(151,-2.3)(153,-2.53)(155,-2.25)(157,-2.55)(159,-2.3)(161,-2.55)(163,-2.3)(165,-2.55)(167,-2.25)(169,-2.55)(171,-2.2)(173,-2.57)(175,-2.2)(177,-2.57)(179,-2.14)(181,-2.57)(183,-2.1)(185,-2.57)(187,-2.2)(189,-2.6)(191,-2.15)(193,-2.6)(195,-2.1)(197,-2.6)(199,-2.04)(201,-2.6)(203.4,-2.04)(205,-2.62)(207,-2.1)(209,-2.62)(211,-2.2)(213,-2.62)(215,-2.18)(217,-2.62)(219,-2.2)(221,-2.62)(223,-2.24)(225,-2.62)(228,-2.24)(230,-2.55)(230,-2.84)(226,-2.92)(221.4,-2.98)(218,-2.85)(213,-2.95)(207,-2.92)(200,-2.84)(195,-2.92)(188,-2.88)(180,-2.85)(175,-2.88)(169,-2.84)(160,-2.86)(150,-2.84)(145,-2.78)(138.8,-2.8)(132,-2.73)(123.6,-2.73)(118,-2.67)(112,-2.65)(106,-2.7)(100.8,-2.69)(94,-2.66)(89,-2.69)(82,-2.62)(78,-2.61)(73,-2.6)(69.4,-2.61)(66.5,-2.55)(60,-2.5)(55,-2.47)(50,-2.43)(43.7,-2.39)(36,-2.26)(28.5,-2.14)(25,-1.98)(23,-1.75)(21,-1.65)(18,-1.7)(15,-1.73)(13.3,-1.6)(10,-1.15)(8,-0.95)(5,-0.7)(3,-0.5)(0,-0.5)} --cycle;
\addplot[forget plot,draw=none,fill=red!70!black,fill opacity=.16] coordinates {(0,-0.4)(3,-0.65)(5,-0.85)(8,-1.1)(12,-1.25)(17,-1.4)(21,-1.4)(28.5,-1.6)(36,-1.77)(45.6,-1.89)(55,-1.98)(74,-2.14)(93,-2.26)(112,-2.34)(131,-2.39)(150,-2.43)(169,-2.49)(188,-2.53)(207,-2.55)(230,-2.57)(230,-2.84)(188,-2.8)(150,-2.77)(112,-2.67)(93,-2.59)(70,-2.47)(55,-2.34)(40,-2.22)(32,-2.08)(25,-1.81)(17,-1.48)(12,-1.45)(8,-1.3)(5,-1.1)(3,-0.85)(0,-0.55)} --cycle;
\addplot[forget plot,draw=none,fill=blue,fill opacity=.25] coordinates {(0,-0.3)(5,-0.5)(10,-0.82)(15,-1.1)(21,-1.28)(32,-1.42)(42,-1.57)(49.4,-1.69)(59,-1.79)(68.4,-1.85)(78,-2.02)(93,-2.08)(112,-2.1)(131,-2.16)(150,-2.2)(169,-2.24)(188,-2.26)(207,-2.27)(230,-2.3)(230,-2.38)(207,-2.36)(188,-2.34)(169,-2.31)(150,-2.29)(131,-2.24)(112,-2.2)(93,-2.17)(80,-2.12)(70,-2.02)(60,-1.95)(50,-1.85)(42,-1.75)(32,-1.6)(21,-1.45)(15,-1.25)(10,-1)(5,-0.68)(0,-0.42)} --cycle;
\addplot[forget plot,draw=none,fill=violet,fill opacity=.24] coordinates {(0,-0.3)(5,-0.5)(10,-0.8)(15,-1.1)(20,-1.35)(28.5,-1.6)(36,-1.77)(45.6,-1.89)(55,-1.98)(74,-2.14)(93,-2.26)(112,-2.34)(131,-2.39)(150,-2.43)(169,-2.49)(188,-2.53)(207,-2.55)(230,-2.57)(230,-2.84)(188,-2.8)(150,-2.77)(112,-2.67)(93,-2.59)(70,-2.47)(55,-2.34)(40,-2.22)(32,-2.08)(25,-1.81)(20,-1.6)(15,-1.35)(10,-1.05)(5,-0.72)(0,-0.45)} --cycle;
\addplot[color=red,line width=1.1pt,lg={color=red,line width=1.1pt}] coordinates {(0,-0.46)(2.9,-0.75)(5.7,-0.99)(8.6,-1.2)(13.3,-1.34)(19,-1.46)(23.8,-1.55)(30.4,-1.63)(36,-1.69)(41,-1.75)(45.6,-1.85)(50.4,-1.91)(57,-2)(62.7,-2.04)(65.6,-2.08)(67,-2.04)(69.4,-2.1)(76,-2.14)(80,-2.2)(87.5,-2.24)(93,-2.28)(100.8,-2.34)(105,-2.35)(110,-2.41)(118,-2.45)(125.5,-2.49)(135,-2.52)(146.4,-2.56)(154,-2.57)(161.6,-2.61)(169,-2.62)(180.6,-2.65)(192,-2.67)(201.5,-2.68)(211,-2.7)(230,-2.73)};
\addlegendentry{dcKG}
\addplot[color=olive,line width=1.4pt,dash pattern=on 1.7pt off 1.2pt,lg={color=olive,line width=1.3pt,dash pattern=on 1.7pt off 1.2pt}] coordinates {(0,-0.3)(1,-0.25)(2,-0.2)(3,-0.4)(4,-0.5)(5,-0.6)(6,-0.72)(7,-0.78)(8,-0.85)(9,-0.92)(10,-1.02)(11,-1.1)(12,-1.2)(13,-1.3)(14,-1.4)(15,-1.55)(16,-1.4)(17,-1.3)(18,-1.55)(19,-1.65)(20,-1.45)(22,-1.7)(24,-1.5)(26,-1.85)(28,-1.6)(30,-1.95)(32,-1.7)(34,-2.1)(36,-1.85)(38,-2.2)(39,-1.75)(41,-2.25)(43,-1.85)(45,-2.3)(47,-1.8)(49,-2.25)(51,-1.9)(53,-2.3)(55,-1.95)(57,-2.32)(59,-2)(61,-2.35)(63,-1.95)(65,-2.35)(67,-2.05)(69,-2.35)(71,-1.85)(73,-2.4)(75,-2.05)(77,-2.42)(79,-2)(81,-2.42)(83,-2.05)(85,-2.45)(87,-2.1)(89,-2.48)(91,-2.1)(93,-2.5)(95,-2.1)(97,-2.5)(99,-2.15)(101,-2.5)(103,-2.15)(105,-2.52)(107,-2.1)(109,-2.55)(111,-2.25)(113,-2.55)(115,-2.2)(117,-2.58)(119,-2.25)(121,-2.6)(123,-2.45)(125,-2.62)(127,-2.42)(129,-2.63)(131,-2.45)(133,-2.65)(135,-2.5)(137,-2.68)(139,-2.45)(141,-2.68)(143,-2.5)(145,-2.72)(147,-2.45)(149,-2.72)(151,-2.5)(153,-2.75)(155,-2.5)(157,-2.73)(159,-2.55)(161,-2.78)(163,-2.55)(165,-2.78)(167,-2.55)(169,-2.78)(171,-2.52)(173,-2.78)(175,-2.58)(177,-2.78)(179,-2.55)(181,-2.8)(183,-2.55)(185,-2.78)(187,-2.55)(189,-2.8)(191,-2.52)(193,-2.78)(195,-2.55)(197,-2.8)(199,-2.5)(201,-2.8)(203,-2.55)(205,-2.82)(207,-2.5)(209,-2.8)(211,-2.6)(213,-2.78)(215,-2.6)(217,-2.82)(219,-2.6)(221,-2.8)(223,-2.6)(225,-2.82)(227,-2.55)(229,-2.82)(230,-2.7)};
\addlegendentry{dcEI}
\addplot[color=black,line width=1.1pt,dash pattern=on 4.5pt off 1.3pt on 1pt off 1.3pt,lg={color=black,line width=1.1pt,dash pattern=on 4.5pt off 1.3pt on 1pt off 1.3pt}] coordinates {(0,-0.38)(2.9,-0.75)(5.7,-1.01)(8.6,-1.22)(13.3,-1.34)(19,-1.46)(24.7,-1.65)(30.4,-1.81)(36,-1.93)(41.8,-2.06)(49.4,-2.13)(57,-2.18)(66.5,-2.24)(70.3,-2.3)(72,-2.34)(74,-2.28)(78,-2.34)(89,-2.39)(100.8,-2.43)(112,-2.45)(123.6,-2.49)(126.4,-2.47)(130,-2.51)(133.5,-2.48)(137,-2.53)(150,-2.55)(158,-2.6)(169,-2.62)(180.6,-2.64)(192,-2.66)(203,-2.67)(215,-2.69)(230,-2.7)};
\addlegendentry{EI+KG}
\addplot[color=cyan,line width=1.1pt,dash pattern=on 4.5pt off 2pt,lg={color=cyan,line width=1.1pt,dash pattern=on 4.5pt off 2pt}] coordinates {(0,-0.36)(5.7,-0.62)(11.4,-0.95)(17,-1.24)(22.8,-1.4)(30.4,-1.52)(38,-1.65)(45.6,-1.73)(55,-1.83)(64.6,-1.89)(74,-2)(83.6,-2.06)(93,-2.11)(102.7,-2.13)(112,-2.15)(121.7,-2.17)(131,-2.19)(140.7,-2.22)(150,-2.24)(159.7,-2.25)(169,-2.27)(178.7,-2.29)(188,-2.29)(197.7,-2.3)(207,-2.31)(216.7,-2.32)(230,-2.34)};
\addlegendentry{cKG}
\addplot[color=blue,line width=1.1pt,dash pattern=on 1.1pt off 1.8pt,lg={color=blue,line width=1.1pt,dash pattern=on 1.1pt off 1.8pt}] coordinates {(0,-0.38)(5.7,-0.66)(11.4,-0.99)(17,-1.3)(22.8,-1.55)(28.5,-1.81)(34.2,-2.04)(40,-2.12)(47.5,-2.18)(55,-2.24)(60.8,-2.28)(68.4,-2.32)(76,-2.34)(85.6,-2.41)(97,-2.46)(110,-2.47)(121.7,-2.51)(131,-2.53)(142.6,-2.57)(156,-2.6)(169,-2.63)(184.4,-2.64)(199.6,-2.66)(207,-2.62)(215,-2.66)(230,-2.69)};
\addlegendentry{cEI}
\end{axis}
\end{tikzpicture}
\end{document}
